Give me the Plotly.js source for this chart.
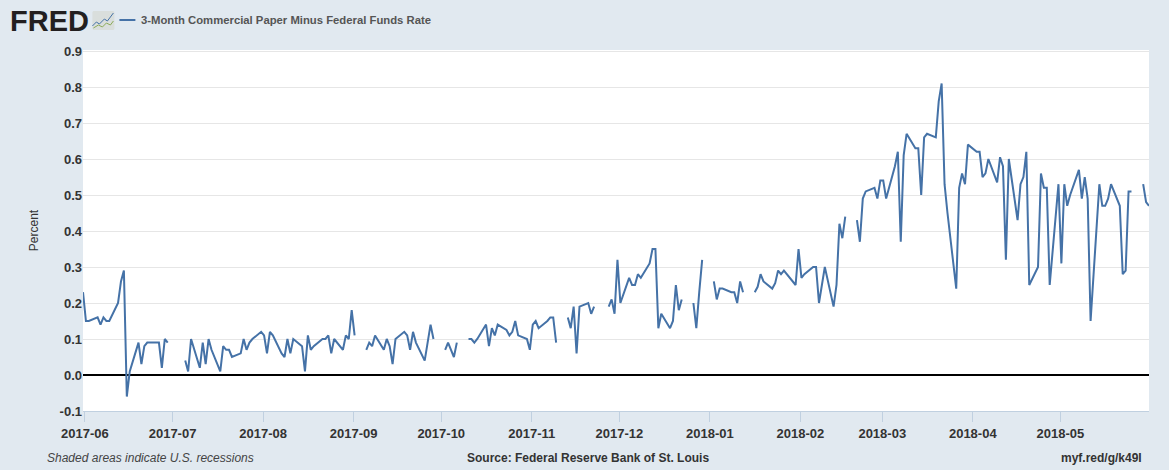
<!DOCTYPE html>
<html>
<head>
<meta charset="utf-8">
<script src="https://cdn.plot.ly/plotly-3.0.1.min.js"></script>
<style>html,body{margin:0;padding:0;background:#e1e9f0}#chart{width:1169px;height:470px}</style>
</head>
<body>
<div id="chart"></div>
<script>
const dates = [
'2017-05-31',
'2017-06-01','2017-06-02','2017-06-05','2017-06-06','2017-06-07','2017-06-08','2017-06-09','2017-06-12','2017-06-13','2017-06-14','2017-06-15','2017-06-16','2017-06-19','2017-06-20','2017-06-21','2017-06-22','2017-06-23','2017-06-26','2017-06-27','2017-06-28','2017-06-29','2017-06-30',
'2017-07-03','2017-07-05','2017-07-06','2017-07-07','2017-07-10','2017-07-11','2017-07-12','2017-07-13','2017-07-14','2017-07-17','2017-07-18','2017-07-19','2017-07-20','2017-07-21','2017-07-24','2017-07-25','2017-07-26','2017-07-27','2017-07-28','2017-07-31',
'2017-08-01','2017-08-02','2017-08-03','2017-08-04','2017-08-07','2017-08-08','2017-08-09','2017-08-10','2017-08-11','2017-08-14','2017-08-15','2017-08-16','2017-08-17','2017-08-18','2017-08-21','2017-08-22','2017-08-23','2017-08-24','2017-08-25','2017-08-28','2017-08-29','2017-08-30','2017-08-31',
'2017-09-01','2017-09-04','2017-09-05','2017-09-06','2017-09-07','2017-09-08','2017-09-11','2017-09-12','2017-09-13','2017-09-14','2017-09-15','2017-09-18','2017-09-19','2017-09-20','2017-09-21','2017-09-22','2017-09-25','2017-09-26','2017-09-27','2017-09-28','2017-09-29',
'2017-10-02','2017-10-03','2017-10-04','2017-10-05','2017-10-06','2017-10-09','2017-10-10','2017-10-11','2017-10-12','2017-10-13','2017-10-16','2017-10-17','2017-10-18','2017-10-19','2017-10-20','2017-10-23','2017-10-24','2017-10-25','2017-10-26','2017-10-27','2017-10-30','2017-10-31',
'2017-11-01','2017-11-02','2017-11-03','2017-11-06','2017-11-07','2017-11-08','2017-11-09','2017-11-10','2017-11-13','2017-11-14','2017-11-15','2017-11-16','2017-11-17','2017-11-20','2017-11-21','2017-11-22','2017-11-23','2017-11-24','2017-11-27','2017-11-28','2017-11-29','2017-11-30',
'2017-12-01','2017-12-04','2017-12-05','2017-12-06','2017-12-07','2017-12-08','2017-12-11','2017-12-12','2017-12-13','2017-12-14','2017-12-15','2017-12-18','2017-12-19','2017-12-20','2017-12-21','2017-12-22','2017-12-25','2017-12-26','2017-12-27','2017-12-28','2017-12-29',
'2018-01-01','2018-01-02','2018-01-03','2018-01-04','2018-01-05','2018-01-08','2018-01-09','2018-01-10','2018-01-11','2018-01-12','2018-01-15','2018-01-16','2018-01-17','2018-01-18','2018-01-19','2018-01-22','2018-01-23','2018-01-24','2018-01-25','2018-01-26','2018-01-29','2018-01-30','2018-01-31',
'2018-02-01','2018-02-02','2018-02-05','2018-02-06','2018-02-07','2018-02-08','2018-02-09','2018-02-12','2018-02-13','2018-02-14','2018-02-15','2018-02-16','2018-02-19','2018-02-20','2018-02-21','2018-02-22','2018-02-23','2018-02-26','2018-02-27','2018-02-28',
'2018-03-01','2018-03-02','2018-03-05','2018-03-06','2018-03-07','2018-03-08','2018-03-09','2018-03-12','2018-03-13','2018-03-14','2018-03-15','2018-03-16','2018-03-19','2018-03-20','2018-03-21','2018-03-22','2018-03-23','2018-03-26','2018-03-27','2018-03-28','2018-03-29','2018-03-30',
'2018-04-02','2018-04-03','2018-04-04','2018-04-05','2018-04-06','2018-04-09','2018-04-10','2018-04-11','2018-04-12','2018-04-13','2018-04-16','2018-04-17','2018-04-18','2018-04-19','2018-04-20','2018-04-23','2018-04-24','2018-04-25','2018-04-26','2018-04-27','2018-04-30',
'2018-05-01','2018-05-02','2018-05-03','2018-05-04','2018-05-07','2018-05-08','2018-05-09','2018-05-10','2018-05-11','2018-05-14','2018-05-15','2018-05-16','2018-05-17','2018-05-18','2018-05-21','2018-05-22','2018-05-23','2018-05-24','2018-05-25','2018-05-28','2018-05-29','2018-05-30','2018-05-31'
];
const rates = [
0.23,
0.15,0.15,0.16,0.14,0.16,0.15,0.15,0.20,0.26,0.29,-0.06,0.01,0.09,0.03,0.08,0.09,0.09,0.09,0.02,0.10,0.09,null,
null,0.04,0.01,0.10,0.02,0.09,0.03,0.10,0.07,0.01,0.08,0.07,0.07,0.05,0.06,0.10,0.07,0.09,0.10,0.12,
0.11,0.06,0.12,0.11,0.06,0.05,0.10,0.06,0.10,0.08,0.01,0.11,0.07,0.08,0.10,0.10,0.11,0.06,0.10,0.07,0.11,0.10,0.18,
0.11,null,0.07,0.09,0.08,0.11,0.07,0.10,0.08,0.03,0.10,0.12,0.11,0.07,0.12,0.09,0.04,0.09,0.14,0.10,null,
0.07,0.09,0.07,0.05,0.09,null,0.10,0.10,0.09,0.10,0.14,0.08,0.13,0.11,0.14,0.125,0.11,0.12,0.15,0.11,0.10,0.07,
0.14,0.15,0.13,0.15,0.16,0.16,0.09,null,0.16,0.13,0.19,0.06,0.19,0.20,0.17,0.19,null,null,0.19,0.21,0.17,0.32,
0.20,0.27,0.25,0.25,0.28,0.27,0.31,0.35,0.35,0.13,0.17,0.13,0.15,0.25,0.18,0.21,null,0.20,0.13,0.23,0.32,
null,0.26,0.21,0.24,0.24,0.23,0.23,0.20,0.26,0.23,null,0.23,0.245,0.28,0.26,0.24,0.255,0.29,0.28,0.29,0.26,0.25,0.35,
0.27,0.28,0.30,0.30,0.20,0.25,0.30,0.19,0.25,0.42,0.38,0.44,null,0.43,0.37,0.49,0.51,0.52,0.49,0.54,
0.54,0.49,0.58,0.62,0.37,0.61,0.67,0.63,0.63,0.50,0.66,0.67,0.66,0.76,0.81,0.53,0.45,0.24,0.52,0.56,0.53,0.64,
0.62,0.62,0.55,0.56,0.60,0.535,0.605,0.58,0.32,0.60,0.43,0.53,0.55,0.62,0.25,0.30,0.56,0.52,0.52,0.25,0.53,
0.31,0.53,0.47,0.50,0.57,0.49,0.55,0.49,0.15,0.53,0.47,0.47,0.49,0.53,0.47,0.28,0.29,0.51,0.51,null,0.53,0.48,0.47
];
const yTicks = [-0.1,0,0.1,0.2,0.3,0.4,0.5,0.6,0.7,0.8,0.9];
const yLabels = ['-0.1','0.0','0.1','0.2','0.3','0.4','0.5','0.6','0.7','0.8','0.9'];
const xTicks = ['2017-05-31 16:00','2017-06-30 16:00','2017-07-31 16:00','2017-08-31 16:00','2017-09-30 16:00','2017-10-31 16:00','2017-11-30 16:00','2017-12-31 16:00','2018-01-31 16:00','2018-02-28 16:00','2018-03-31 16:00','2018-04-30 16:00'];
const xLabels = ['2017-06','2017-07','2017-08','2017-09','2017-10','2017-11','2017-12','2018-01','2018-02','2018-03','2018-04','2018-05'];
const seriesName = '3-Month Commercial Paper Minus Federal Funds Rate';

const W = 1169, H = 470;
const m = {l: 82.6, r: 20.3, t: 50, b: 59};
const pw = W - m.l - m.r, ph = H - m.t - m.b;
const px = x => (x - m.l) / pw;
const py = y => 1 - (y - m.t) / ph;
const path = pts => pts.map((p, i) => (i ? 'L' : 'M') + px(p[0]).toFixed(5) + ',' + py(p[1]).toFixed(5)).join(' ');
const note = (x, y, text, anchor, font) => ({xref: 'paper', yref: 'paper', x: px(x), y: py(y), text, showarrow: false, xanchor: anchor, yanchor: 'middle', font, borderpad: 0});

const LABEL = 'Liberation Sans, Arial, sans-serif';
Plotly.newPlot('chart', [{
  type: 'scatter', mode: 'lines', x: dates, y: rates, name: seriesName,
  connectgaps: false, line: {color: '#4572a7', width: 2, shape: 'linear'}, hoverinfo: 'x+y'
}], {
  width: W, height: H, margin: m, paper_bgcolor: '#e1e9f0', plot_bgcolor: '#ffffff',
  showlegend: false, font: {family: LABEL},
  xaxis: {type: 'date', range: ['2017-05-31', '2018-05-31'], tickmode: 'array', tickvals: xTicks, ticktext: xLabels,
    ticks: 'outside', ticklen: 10, tickwidth: 1, tickcolor: '#c0d0e0', showgrid: false, showline: true, linecolor: '#c0d0e0', linewidth: 1,
    tickangle: 0, tickfont: {family: LABEL, size: 13, color: '#333333', weight: 'bold'}, zeroline: false},
  yaxis: {range: [-0.1, 0.9028], tickmode: 'array', tickvals: yTicks, ticktext: yLabels, showgrid: true, gridcolor: '#e6e6e6', gridwidth: 1,
    zeroline: true, zerolinecolor: '#000000', zerolinewidth: 2, showline: false, ticks: '', ticklen: 0,
    tickfont: {family: LABEL, size: 13, color: '#333333', weight: 'bold'},
    title: {text: 'Percent', standoff: 18, font: {family: LABEL, size: 12, color: '#333333'}}},
  shapes: [
    {type: 'path', xref: 'paper', yref: 'paper', path: path([[93,11],[113,11],[114,12],[114,29],[113,30],[93,30],[92,29],[92,12]]) + ' Z', fillcolor: '#d9dedc', line: {width: 0}},
    {type: 'path', xref: 'paper', yref: 'paper', path: path([[92,26],[96,22],[99,24],[104,19],[107,21],[113,13]]), line: {color: '#4572a7', width: 1}},
    {type: 'path', xref: 'paper', yref: 'paper', path: path([[93,28],[98,25],[102,27],[106,23],[110,25],[113,21]]), line: {color: '#8cab5a', width: 1}},
    {type: 'line', xref: 'paper', yref: 'paper', x0: px(119), x1: px(135), y0: py(20), y1: py(20), line: {color: '#4572a7', width: 2}}
  ],
  annotations: [
    note(9, 21, 'FRED', 'left', {family: LABEL, size: 29, color: '#231f20', weight: 'bold'}),
    note(140, 20, seriesName, 'left', {family: LABEL, size: 11.3, color: '#555555', weight: 'bold'}),
    note(46, 458, 'Shaded areas indicate U.S. recessions', 'left', {family: LABEL, size: 12, color: '#444444', style: 'italic'}),
    note(466, 458, 'Source: Federal Reserve Bank of St. Louis', 'left', {family: LABEL, size: 12, color: '#333333', weight: 'bold'}),
    note(1143, 458, 'myf.red/g/k49I', 'right', {family: LABEL, size: 12, color: '#333333', weight: 'bold'})
  ]
}, {displayModeBar: false, staticPlot: true});
</script>
</body>
</html>
